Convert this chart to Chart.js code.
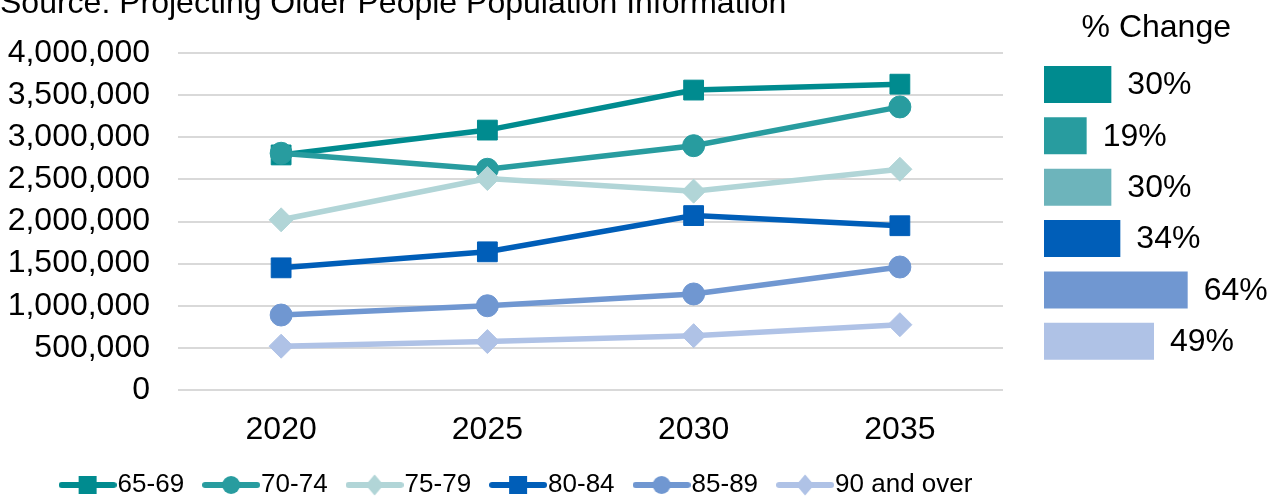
<!DOCTYPE html>
<html>
<head>
<meta charset="utf-8">
<script src="https://cdn.jsdelivr.net/npm/chart.js@4/dist/chart.umd.min.js"></script>
<style>
    html, body { margin: 0; padding: 0; background: #fff; overflow: hidden; }
    #wrap { position: relative; width: 1280px; height: 496px; overflow: hidden; }
    #lineBox { position: absolute; left: 0; top: 0; width: 1030px; height: 508px; }
    #barBox { position: absolute; left: 1030px; top: 0; width: 250px; height: 496px; }
</style>
</head>
<body>
<div id="wrap">
    <div id="lineBox"><canvas id="lineChart" width="1030" height="508"></canvas></div>
    <div id="barBox"><canvas id="barChart" width="250" height="496"></canvas></div>
</div>
<script>
// ==================== DATA ====================

const years = ['2020', '2025', '2030', '2035'];
const ageGroups = ['65-69', '70-74', '75-79', '80-84', '85-89', '90 and over'];

const age65to69 = [2790000, 3085000, 3560000, 3630000];
const age70to74 = [2810000, 2620000, 2900000, 3360000];
const age75to79 = [2020000, 2510000, 2360000, 2620000];
const age80to84 = [1450000, 1640000, 2070000, 1950000];
const age85to89 = [890000, 1000000, 1140000, 1460000];
const age90plus = [520000, 575000, 645000, 775000];

const pctChange = [30, 19, 30, 34, 64, 49];

const yMin = 0;
const yMax = 4000000;
const yStep = 500000;

const sourceText = 'Source: Projecting Older People Population Information';
const barTitle = '% Change';

// ==================== STYLE ====================

const FONT = '"Liberation Sans", Arial, sans-serif';
const lineColors = ['#008B8F', '#289C9F', '#B1D5D7', '#005EB8', '#7097D1', '#AFC2E6'];
const barColors = ['#008B8F', '#289C9F', '#6DB4BB', '#005EB8', '#7097D1', '#AFC2E6'];
const markers = ['rect', 'circle', 'rectRot', 'rect', 'circle', 'rectRot'];
const markerRadius = { rect: 14, circle: 11, rectRot: 12 };

// small canvas used as legend symbol: line with marker in middle
function legendIcon(color, style) {
    const c = document.createElement('canvas');
    c.width = 58;
    c.height = 22;
    const g = c.getContext('2d');
    g.strokeStyle = color;
    g.lineWidth = 6;
    g.lineCap = 'round';
    g.beginPath();
    g.moveTo(3, 11);
    g.lineTo(55, 11);
    g.stroke();
    g.fillStyle = color;
    g.beginPath();
    if (style === 'rect') {
        g.rect(20, 2, 18, 18);
    } else if (style === 'circle') {
        g.arc(29, 11, 9, 0, Math.PI * 2);
    } else {
        g.moveTo(29, 0.5);
        g.lineTo(38, 11);
        g.lineTo(29, 21.5);
        g.lineTo(20, 11);
        g.closePath();
    }
    g.fill();
    return c;
}

const sourceNote = {
    id: 'sourceNote',
    afterDraw(chart) {
        const ctx = chart.ctx;
        ctx.save();
        ctx.font = '32px ' + FONT;
        ctx.fillStyle = '#000';
        ctx.textBaseline = 'alphabetic';
        ctx.textAlign = 'left';
        ctx.fillText(sourceText, 0, 13);
        ctx.restore();
    }
};

// legend in the original sits a little right of the plot centre
const legendShift = {
    id: 'legendShift',
    afterLayout(chart) {
        if (!chart.legend) return;
        chart.legend.left += 20;
        chart.legend.right += 20;
    }
};

const barValueLabels = {
    id: 'barValueLabels',
    afterDatasetsDraw(chart) {
        const ctx = chart.ctx;
        const meta = chart.getDatasetMeta(0);
        ctx.save();
        ctx.font = '32px ' + FONT;
        ctx.fillStyle = '#000';
        ctx.textBaseline = 'middle';
        ctx.textAlign = 'left';
        meta.data.forEach((bar, i) => {
            ctx.fillText(pctChange[i] + '%', bar.x + 16, bar.y + 1);
        });
        ctx.restore();
    }
};

// ==================== LINE CHART ====================

const seriesValues = [age65to69, age70to74, age75to79, age80to84, age85to89, age90plus];

const lineDatasets = seriesValues.map((values, i) => ({
    label: ageGroups[i],
    data: values,
    borderColor: lineColors[i],
    backgroundColor: lineColors[i],
    borderWidth: 5.5,
    pointStyle: markers[i],
    pointRadius: markerRadius[markers[i]],
    pointBackgroundColor: lineColors[i],
    pointBorderColor: lineColors[i],
    pointBorderWidth: 1,
    tension: 0,
    order: ageGroups.length - i   // later series drawn on top, like the original
}));

new Chart(document.getElementById('lineChart'), {
    type: 'line',
    data: { labels: years, datasets: lineDatasets },
    options: {
        responsive: false,
        animation: false,
        layout: { padding: { top: 53, right: 27, left: 0, bottom: 0 } },
        scales: {
            x: {
                offset: true,
                grid: { display: false },
                border: { display: false },
                ticks: { font: { family: FONT, size: 32 }, color: '#000', padding: 13 },
                afterFit(scale) { scale.height = 52; }
            },
            y: {
                min: yMin,
                max: yMax,
                grid: { color: '#D9D9D9', lineWidth: 2, drawTicks: false },
                border: { display: false },
                ticks: {
                    stepSize: yStep,
                    font: { family: FONT, size: 32 },
                    color: '#000',
                    padding: 28,
                    callback: v => v.toLocaleString('en-US')
                },
                afterFit(scale) { scale.width = 178; }
            }
        },
        plugins: {
            tooltip: { enabled: false },
            legend: {
                position: 'bottom',
                labels: {
                    usePointStyle: true,
                    pointStyleWidth: 34,
                    padding: 30,
                    color: '#000',
                    font: { family: FONT, size: 26 },
                    generateLabels(chart) {
                        return chart.data.datasets.map((ds, i) => ({
                            text: ds.label,
                            fillStyle: ds.borderColor,
                            strokeStyle: ds.borderColor,
                            lineWidth: 0,
                            pointStyle: legendIcon(ds.borderColor, ds.pointStyle),
                            fontColor: '#000',
                            hidden: false,
                            datasetIndex: i
                        }));
                    }
                }
            }
        }
    },
    plugins: [sourceNote, legendShift]
});

// ==================== BAR CHART ====================

new Chart(document.getElementById('barChart'), {
    type: 'bar',
    data: {
        labels: ageGroups,
        datasets: [{
            data: pctChange,
            backgroundColor: barColors,
            barPercentage: 0.72,
            categoryPercentage: 1
        }]
    },
    options: {
        indexAxis: 'y',
        responsive: false,
        animation: false,
        layout: { padding: { left: 14, right: 11.5, top: 0, bottom: 129 } },
        scales: {
            x: { display: false, min: 0, max: 100 },
            y: { display: false }
        },
        plugins: {
            legend: { display: false },
            tooltip: { enabled: false },
            title: {
                display: true,
                text: barTitle,
                color: '#000',
                font: { family: FONT, size: 32, weight: 'normal' },
                padding: { top: 8.8, bottom: 11.6 }
            }
        }
    },
    plugins: [barValueLabels]
});
</script>
</body>
</html>
